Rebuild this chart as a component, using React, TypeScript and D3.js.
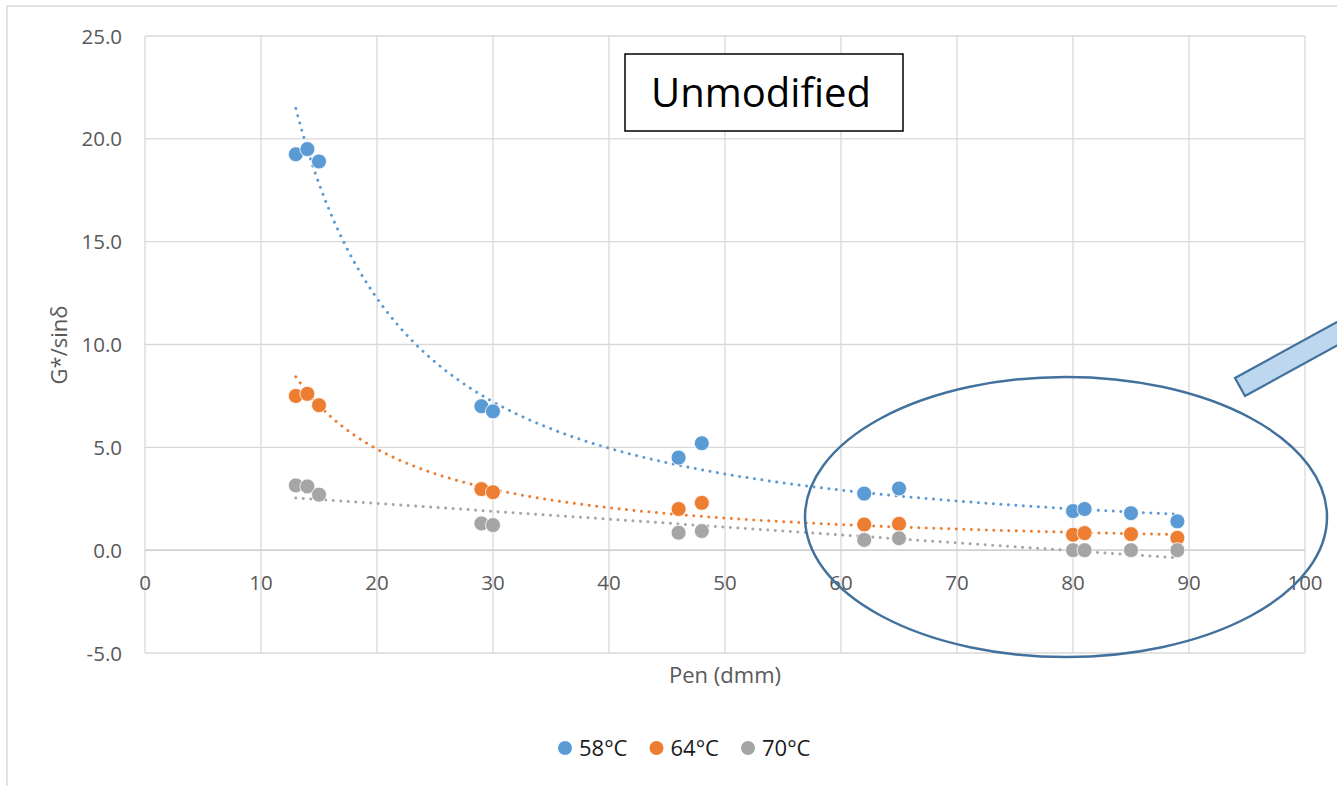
import { scaleLinear, line, range, mean } from "d3";

// chart data
const penValues = [13, 14, 15, 29, 30, 46, 48, 62, 65, 80, 81, 85, 89];
const g58 = [19.25, 19.5, 18.9, 7.0, 6.75, 4.5, 5.2, 2.75, 3.0, 1.9, 2.0, 1.8, 1.4];
const g64 = [7.5, 7.6, 7.05, 2.97, 2.82, 2.0, 2.3, 1.25, 1.28, 0.75, 0.83, 0.78, 0.6];
const g70 = [3.15, 3.1, 2.7, 1.3, 1.22, 0.85, 0.93, 0.5, 0.58, 0, 0, 0, 0];

const seriesNames = ["58°C", "64°C", "70°C"];
const trendKinds = ["power", "power", "linear"];
const xTicks = [0, 10, 20, 30, 40, 50, 60, 70, 80, 90, 100];
const yTicks = [-5, 0, 5, 10, 15, 20, 25];

const W = 1337;
const H = 786;
const colors = ["#5B9BD5", "#ED7D31", "#A5A5A5"];
const font = "'Open Sans', 'Liberation Sans', sans-serif";

const x = scaleLinear().domain([0, 100]).range([145, 1305]);
const y = scaleLinear().domain([-5, 25]).range([653, 36]);

// least squares fit, like the spreadsheet trendline
function fit(xs: number[], ys: number[], kind: string) {
  const useLog = kind === "power";
  const px = useLog ? xs.map(Math.log) : xs;
  const py = useLog ? ys.map(Math.log) : ys;
  const mx = mean(px) as number;
  const my = mean(py) as number;
  let sxy = 0;
  let sxx = 0;
  px.forEach((v, i) => {
    sxy += (v - mx) * (py[i] - my);
    sxx += (v - mx) * (v - mx);
  });
  const b = sxy / sxx;
  const a = my - b * mx;
  return useLog
    ? (v: number) => Math.exp(a) * Math.pow(v, b)
    : (v: number) => a + b * v;
}

export default function App() {
  const series = [g58, g64, g70];
  const xMin = Math.min(...penValues);
  const xMax = Math.max(...penValues);
  const samples = range(xMin, xMax + 0.001, 0.25);
  const path = line<[number, number]>()
    .x((d) => x(d[0]))
    .y((d) => y(d[1]));

  return (
    <svg
      width={W}
      height={H}
      style={{ position: "absolute", left: 0, top: 0, display: "block" }}
      fontFamily={font}
    >
      <rect x={0} y={0} width={W} height={H} fill="#fff" />
      {/* outer chart border */}
      <rect x={7} y={6} width={W + 20} height={H + 20} fill="none" stroke="#D9D9D9" strokeWidth={1.5} />

      {/* gridlines */}
      {xTicks.map((t) => (
        <line key={"gx" + t} x1={x(t)} x2={x(t)} y1={y(25)} y2={y(-5)} stroke="#D9D9D9" strokeWidth={1.3} />
      ))}
      {yTicks.map((t) => (
        <line key={"gy" + t} x1={x(0)} x2={x(100)} y1={y(t)} y2={y(t)} stroke="#D9D9D9" strokeWidth={1.3} />
      ))}
      <line x1={x(0)} x2={x(100)} y1={y(0)} y2={y(0)} stroke="#D0D0D0" strokeWidth={1.5} />

      {/* tick labels */}
      {yTicks.map((t) => (
        <text key={"ty" + t} x={122} y={y(t) + 7.5} textAnchor="end" fontSize={20.5} fill="#595959">
          {t.toFixed(1)}
        </text>
      ))}
      {xTicks.map((t) => (
        <text key={"tx" + t} x={x(t)} y={590} textAnchor="middle" fontSize={20.5} fill="#595959">
          {t}
        </text>
      ))}

      {/* axis titles */}
      <text x={725} y={683} textAnchor="middle" fontSize={22} fill="#595959">
        Pen (dmm)
      </text>
      <text transform="translate(67,345) rotate(-90)" textAnchor="middle" fontSize={22} fill="#595959">
        G*/sinδ
      </text>

      {/* trendlines */}
      {series.map((vals, i) => {
        const f = fit(penValues, vals, trendKinds[i]);
        const pts = samples.map((v) => [v, f(v)] as [number, number]);
        return (
          <path
            key={"tr" + i}
            d={path(pts) ?? ""}
            fill="none"
            stroke={colors[i]}
            strokeWidth={3}
            strokeLinecap="round"
            strokeDasharray="0.01 7.5"
          />
        );
      })}

      {/* markers */}
      {series.map((vals, i) => (
        <g key={"s" + i}>
          {vals.map((v, j) => (
            <circle key={j} cx={x(penValues[j])} cy={y(v)} r={7.5} fill={colors[i]} stroke="#fff" strokeWidth={0.8} />
          ))}
        </g>
      ))}

      {/* text box */}
      <rect x={625} y={54} width={278} height={77} fill="#fff" stroke="#000" strokeWidth={1.5} />
      <text x={761} y={107} textAnchor="middle" fontSize={40} fill="#000">
        Unmodified
      </text>

      {/* highlight ellipse and arrow shaft */}
      <ellipse cx={1066} cy={517} rx={261} ry={140} fill="none" stroke="#41719C" strokeWidth={2.5} />
      <polygon
        points="1235,378 1245,396 1365,330 1355,312"
        fill="#BDD7EE"
        stroke="#41719C"
        strokeWidth={2.2}
      />

      {/* legend */}
      {seriesNames.map((name, i) => {
        const lx = 565 + i * 91.5;
        return (
          <g key={"lg" + i}>
            <circle cx={lx} cy={748} r={7} fill={colors[i]} />
            <text x={lx + 14} y={756} fontSize={22} fill="#1a1a1a">
              {name}
            </text>
          </g>
        );
      })}
    </svg>
  );
}
